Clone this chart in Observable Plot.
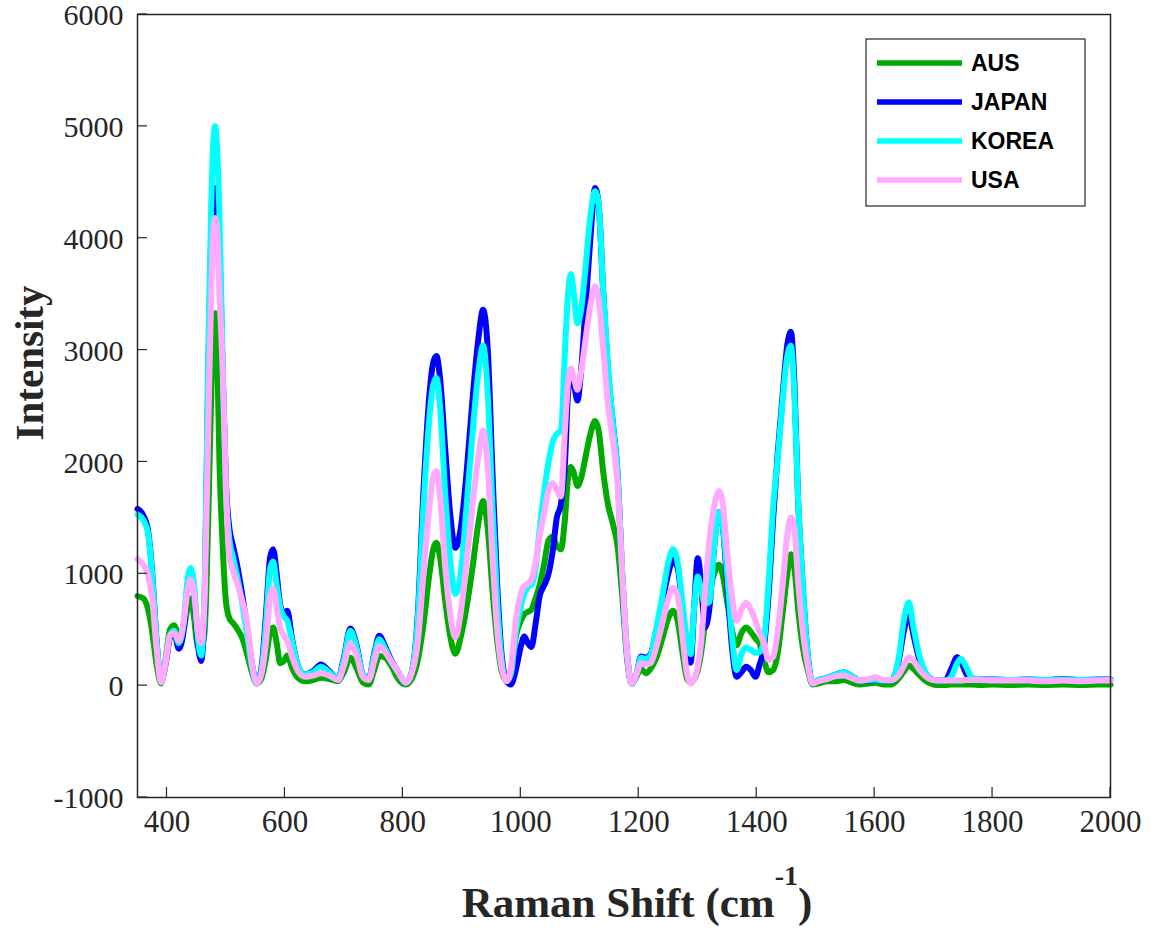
<!DOCTYPE html>
<html><head><meta charset="utf-8">
<script src="https://cdn.jsdelivr.net/npm/d3@7"></script>
<script src="https://cdn.jsdelivr.net/npm/@observablehq/plot@0.6"></script>
<style>body{margin:0;background:#fff}#chart{position:relative;width:1158px;height:928px}</style>
</head><body><div id="chart"></div>
<script>
const shift = [350,360,368,375,382,390,398,405,412,420,428,435,440,446,452,458,464,470,475,479,482,485,489,494,500,506,512,520,528,536,544,552,560,568,575,580,586,592,598,604,612,622,634,648,661,675,690,700,711,722,732,742,752,760,770,780,792,805,815,825,835,845,852,857,863,872,880,889,898,908,918,928,936,944,952,960,968,976,983,992,1000,1006,1012,1018,1025,1032,1040,1047,1054,1061,1068,1075,1080,1085,1090,1096,1102,1110,1118,1126,1132,1140,1148,1156,1164,1172,1180,1188,1196,1204,1212,1220,1230,1240,1250,1258,1266,1274,1282,1288,1294,1300,1306,1312,1320,1328,1336,1342,1350,1358,1366,1374,1382,1390,1398,1405,1412,1420,1428,1436,1444,1452,1458,1464,1470,1478,1486,1495,1505,1520,1535,1548,1560,1575,1590,1602,1615,1628,1640,1650,1658,1666,1675,1685,1695,1707,1720,1730,1740,1746,1756,1765,1780,1800,1830,1860,1890,1920,1950,1980,2000];
const japan = [1580,1520,1380,1000,420,40,200,430,480,330,480,900,1030,850,400,220,800,2800,4000,4400,4450,4350,3900,2900,1800,1400,1250,1050,800,500,200,20,150,650,1150,1220,1000,720,650,670,420,180,100,130,190,130,60,250,510,350,100,60,300,445,350,230,120,25,120,600,1750,2600,2900,2946,2750,2100,1550,1232,1400,1900,2550,3100,3360,3000,1900,900,250,40,10,150,350,440,380,345,550,800,900,1000,1200,1500,1620,2000,2600,2770,2700,2550,2800,3400,4000,4450,4300,3500,2800,2350,1900,1000,300,20,100,260,250,280,500,750,1000,1125,1050,700,300,205,700,1140,900,520,700,1250,1550,1450,900,350,80,120,170,140,80,190,330,800,1500,2100,2600,3050,3163,2700,1700,900,300,20,50,70,100,120,90,45,45,50,45,45,200,500,640,450,250,120,60,45,50,150,253,220,100,60,55,55,50,55,50,60,50,55,55];
const korea = [1530,1480,1360,980,420,40,220,450,490,380,550,950,1050,900,450,270,900,3000,4300,4900,5000,4800,4200,3000,1750,1300,1150,950,720,450,170,20,130,560,1050,1110,900,700,620,580,400,180,100,120,170,120,60,230,490,330,100,60,280,415,330,220,120,25,120,560,1600,2400,2700,2750,2500,1700,1150,821,1000,1600,2250,2800,3040,2600,1600,750,200,40,100,500,700,820,880,900,1050,1400,1750,2000,2180,2250,2280,3000,3500,3680,3500,3240,3350,3750,4200,4420,4300,3500,2850,2350,1900,1000,300,20,100,250,240,270,520,800,1100,1220,1100,750,400,280,700,975,850,730,750,1250,1550,1450,1000,450,140,280,340,320,295,300,390,900,1600,2050,2550,2950,3040,2600,1700,900,300,20,50,70,100,120,90,45,50,55,45,45,220,600,745,520,285,130,60,45,45,80,200,240,160,70,55,50,50,50,50,55,50,50,50];
const usa = [1130,1080,990,780,350,30,220,450,470,400,560,850,950,820,500,380,800,2300,3500,4100,4180,4050,3500,2875,1750,1150,1030,900,750,560,200,20,100,400,800,870,700,520,450,400,260,130,80,90,110,90,50,180,375,260,80,50,230,355,300,220,120,25,110,380,1000,1600,1880,1920,1700,1050,650,430,650,1100,1600,2050,2280,1950,1150,500,150,40,150,600,820,890,910,950,1100,1340,1550,1750,1810,1750,1690,2300,2700,2835,2750,2646,2800,3100,3400,3570,3450,3000,2500,2200,1800,1000,300,20,100,200,190,200,350,560,780,875,800,450,100,20,60,170,400,800,1300,1600,1740,1650,1200,800,580,680,740,680,580,470,380,230,260,500,900,1350,1503,1400,950,500,200,20,40,60,85,90,70,45,60,75,50,50,90,180,253,220,150,90,55,45,45,45,45,45,50,50,50,45,45,45,40,45,40,45,45];
const aus = [800,780,680,480,200,20,250,500,540,460,500,700,780,600,350,330,500,1500,2600,3250,3330,3000,2000,1300,750,600,560,500,420,280,120,20,60,250,480,520,380,200,220,270,160,70,40,50,70,60,40,120,250,150,30,10,150,265,250,180,60,10,60,220,550,1000,1230,1277,1150,750,450,285,430,700,1050,1450,1650,1400,850,400,120,40,120,450,580,640,660,680,780,900,1100,1300,1330,1250,1220,1500,1850,1955,1900,1785,1850,2050,2250,2365,2280,1900,1615,1450,1250,800,250,20,80,150,110,150,250,420,600,670,580,300,60,30,60,135,300,550,850,1000,1080,1000,750,500,360,470,520,480,420,375,240,120,140,300,650,1000,1175,1050,700,350,150,10,20,40,40,50,30,10,20,25,10,10,60,130,180,150,100,50,20,5,5,10,10,10,10,10,5,10,5,10,5,10,5,10,10];

const seriesNames = ["AUS", "JAPAN", "KOREA", "USA"];
const seriesColors = ["#00aa00", "#0000ff", "#00ffff", "#ffaaff"];
const xTicks = [400, 600, 800, 1000, 1200, 1400, 1600, 1800, 2000];
const yTicks = [-1000, 0, 1000, 2000, 3000, 4000, 5000, 6000];
const xLabel = "Raman Shift (cm";
const xLabelSup = "-1";
const yLabel = "Intensity";

const seriesValues = [aus, japan, korea, usa];
const rows = [];
seriesValues.forEach((vals, i) => shift.forEach((x, j) => rows.push({shift: x, intensity: vals[j], country: seriesNames[i]})));

const chart = Plot.plot({
  width: 1158, height: 928,
  marginLeft: 137, marginRight: 48, marginTop: 14, marginBottom: 131,
  style: {fontFamily: "'Liberation Serif', 'Times New Roman', serif", fontSize: "31px", color: "#262626", background: "#fff", overflow: "visible"},
  x: {domain: [350, 2000]},
  y: {domain: [-1000, 6000]},
  color: {domain: seriesNames, range: seriesColors},
  marks: [
    Plot.lineY(rows, {x: "shift", y: "intensity", z: "country", stroke: "country", strokeWidth: 6, curve: "monotone-x", strokeLinejoin: "round"}),
    Plot.frame({stroke: "#262626", strokeWidth: 1.5}),
    Plot.axisX({ticks: xTicks, tickSize: 0, tickPadding: 12, label: null, tickFormat: d => String(d), fontSize: 31}),
    Plot.axisY({ticks: yTicks, tickSize: 0, tickPadding: 14, label: null, tickFormat: d => String(d), fontSize: 30, dy: 1})
  ]
});
document.getElementById("chart").appendChild(chart);

const sx = chart.scale("x"), sy = chart.scale("y");
const svg = d3.select(chart);
const x0 = sx.apply(sx.domain[0]);
const yb = sy.apply(sy.domain[0]);
const tg = svg.append("g").attr("stroke", "#262626").attr("stroke-width", 1.2);
xTicks.forEach(v => { const x = sx.apply(v); tg.append("line").attr("x1", x).attr("x2", x).attr("y1", yb).attr("y2", yb - 10); });
yTicks.forEach(v => { const y = sy.apply(v); tg.append("line").attr("x1", x0).attr("x2", x0 + 10).attr("y1", y).attr("y2", y); });

svg.append("text")
  .attr("transform", "translate(43,363) rotate(-90)")
  .attr("text-anchor", "middle")
  .attr("font-family", "'Liberation Serif', serif")
  .attr("font-weight", "bold").attr("font-size", 41).attr("fill", "#262626")
  .text(yLabel);
const xt = svg.append("text")
  .attr("x", 637).attr("y", 917)
  .attr("text-anchor", "middle")
  .attr("font-family", "'Liberation Serif', serif")
  .attr("font-weight", "bold").attr("font-size", 43).attr("fill", "#262626");
xt.append("tspan").text(xLabel);
xt.append("tspan").attr("dy", -32).attr("font-size", 28).text(xLabelSup);
xt.append("tspan").attr("dy", 32).text(")");

const lg = svg.append("g");
lg.append("rect").attr("x", 866).attr("y", 39).attr("width", 219).attr("height", 167)
  .attr("fill", "#fff").attr("stroke", "#262626").attr("stroke-width", 1.2);
seriesNames.forEach((name, i) => {
  const y = 63 + i * 39;
  lg.append("line").attr("x1", 877).attr("x2", 962).attr("y1", y).attr("y2", y)
    .attr("stroke", seriesColors[i]).attr("stroke-width", 5.5);
  lg.append("text").attr("x", 971).attr("y", y + 8).attr("text-anchor", "start")
    .attr("font-family", "'Liberation Sans', Arial, sans-serif").attr("font-weight", "bold")
    .attr("font-size", 23).attr("fill", "#000").text(name);
});
</script>
</body></html>
